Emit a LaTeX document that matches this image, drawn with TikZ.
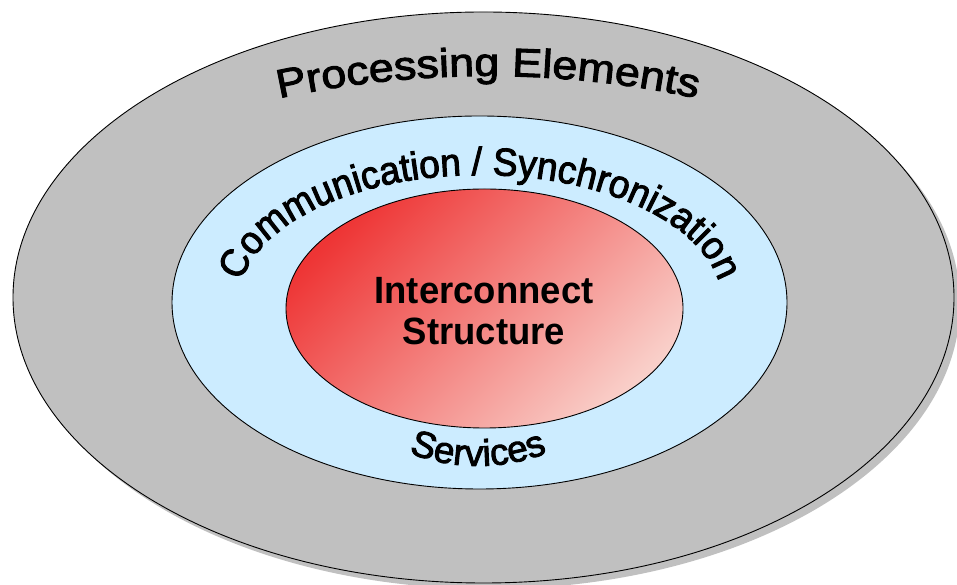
\documentclass[tikz,border=0pt]{standalone}
\usepackage{fontspec}
\setmainfont{Liberation Sans}
\newfontfamily\pefont[FakeStretch=1.12,FakeBold=2.5]{Liberation Sans}
\newfontfamily\csfont[FakeStretch=0.95,FakeBold=2.5]{Liberation Sans}
\newfontfamily\svfont[FakeBold=2.5]{Liberation Sans}
\newfontfamily\icfont[FakeStretch=0.96]{Liberation Sans}
\usetikzlibrary{shapes.geometric,shadows,decorations.text}
\definecolor{pegray}{HTML}{C0C0C0}
\definecolor{csblue}{HTML}{CCECFF}
\definecolor{isred}{HTML}{EE3535}
\definecolor{ispink}{HTML}{F9CFC9}
\begin{document}
\begin{tikzpicture}[x=1pt,y=1pt,
  ring/.style={ellipse, draw=black, line width=0.9pt, inner sep=0pt, outer sep=0pt},
  arctext/.style={decorate, decoration={text along path, text align=center, text={#1}}}]
\useasboundingbox (0,0) rectangle (957,585);
% rings
\node[ring, fill=pegray, minimum width=941pt, minimum height=571pt,
  drop shadow={shadow xshift=6pt, shadow yshift=-6pt, fill=pegray, opacity=1}]
  (pe) at (483.5,287.5) {};
\node[ring, fill=csblue, minimum width=615pt, minimum height=373pt]
  (cs) at (479.5,282.5) {};
\node[ring, top color=isred, bottom color=ispink, shading angle=45,
  minimum width=397pt, minimum height=239pt]
  (is) at (484.5,276.5) {};
% curved labels
\path[arctext={|\fontsize{40}{42}\pefont|Processing Elements}]
  ([shift={(104:990pt)}]488,-481) arc[start angle=104, end angle=76, radius=990pt];
\path[arctext={|\fontsize{39}{42}\csfont|Communication / Synchronization}]
  (238,282) arc[start angle=180, end angle=0, x radius=242pt, y radius=128pt];
\path[arctext={|\fontsize{37}{40}\svfont|Services}]
  ([shift={(240:190pt)}]478,309) arc[start angle=240, end angle=300, radius=190pt];
% centre label
\node[font=\icfont\bfseries\fontsize{38}{41}\selectfont, align=center, inner sep=0pt]
  (ic) at (484,274) {Interconnect\\Structure};
\end{tikzpicture}
\end{document}
